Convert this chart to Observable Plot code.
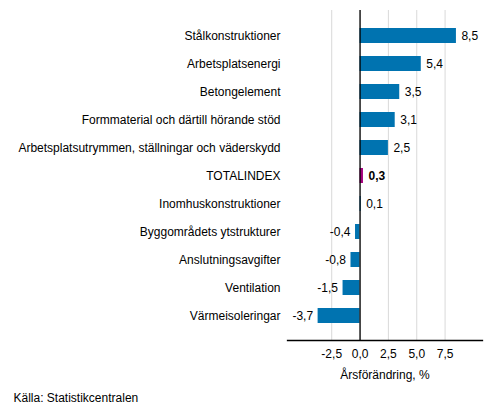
<!DOCTYPE html>
<html>
<head>
<meta charset="utf-8">
<script src="https://cdn.jsdelivr.net/npm/d3@7"></script>
<script src="https://cdn.jsdelivr.net/npm/@observablehq/plot@0.6"></script>
<style>
  html, body { margin: 0; padding: 0; background: #fff; }
  svg { font-family: "Liberation Sans", Arial, sans-serif; }
</style>
</head>
<body>
<div id="chart"></div>
<script>
const categories = [
  "Stålkonstruktioner",
  "Arbetsplatsenergi",
  "Betongelement",
  "Formmaterial och därtill hörande stöd",
  "Arbetsplatsutrymmen, ställningar och väderskydd",
  "TOTALINDEX",
  "Inomhuskonstruktioner",
  "Byggområdets ytstrukturer",
  "Anslutningsavgifter",
  "Ventilation",
  "Värmeisoleringar"
];
const values = [8.5, 5.4, 3.5, 3.1, 2.5, 0.3, 0.1, -0.4, -0.8, -1.5, -3.7];
const xTicks = [-2.5, 0, 2.5, 5, 7.5];
const highlight = "TOTALINDEX";
const axisTitle = "Årsförändring, %";
const source = "Källa: Statistikcentralen";

const data = categories.map((c, i) => ({category: c, value: values[i]}));
const fmt = v => v.toFixed(1).replace(".", ",");

const chart = Plot.plot({
  width: 493,
  height: 416,
  marginTop: 10,
  marginBottom: 76,
  marginLeft: 287,
  marginRight: 11,
  style: {fontFamily: "Liberation Sans, Arial, sans-serif", fontSize: "12px", color: "#000"},
  x: {domain: [-6.4, 10.8], ticks: xTicks, tickFormat: fmt},
  y: {domain: categories, padding: 0.48},
  marks: [
    Plot.gridX(xTicks, {stroke: "#d9d9d9", strokeOpacity: 1}),
    Plot.barX(data, {
      x: "value", y: "category",
      fill: d => d.category === highlight ? "#a4007d" : "#0073b0"
    }),
    Plot.ruleX([0], {stroke: "#000", strokeWidth: 1.3}),
    Plot.frame({anchor: "bottom", stroke: "#000", strokeWidth: 1.3}),
    Plot.axisX(xTicks, {tickSize: 0, tickPadding: 9, tickFormat: fmt, label: null, fontSize: 12}),
    Plot.axisY({tickSize: 0, tickPadding: 7, label: null, fontSize: 12}),
    Plot.text(data.filter(d => d.value >= 0 && d.category !== highlight), {
      x: "value", y: "category", text: d => fmt(d.value),
      textAnchor: "start", dx: 5, fontSize: 12
    }),
    Plot.text(data.filter(d => d.category === highlight), {
      x: "value", y: "category", text: d => fmt(d.value),
      textAnchor: "start", dx: 5, fontSize: 12, fontWeight: "bold"
    }),
    Plot.text(data.filter(d => d.value < 0), {
      x: "value", y: "category", text: d => fmt(d.value),
      textAnchor: "end", dx: -5, fontSize: 12
    }),
    Plot.text([axisTitle], {frameAnchor: "bottom", dy: 38, fontSize: 12}),
    Plot.text([source], {frameAnchor: "bottom-left", dx: -274, dy: 61, textAnchor: "start", fontSize: 12})
  ]
});
document.getElementById("chart").append(chart);
</script>
</body>
</html>
